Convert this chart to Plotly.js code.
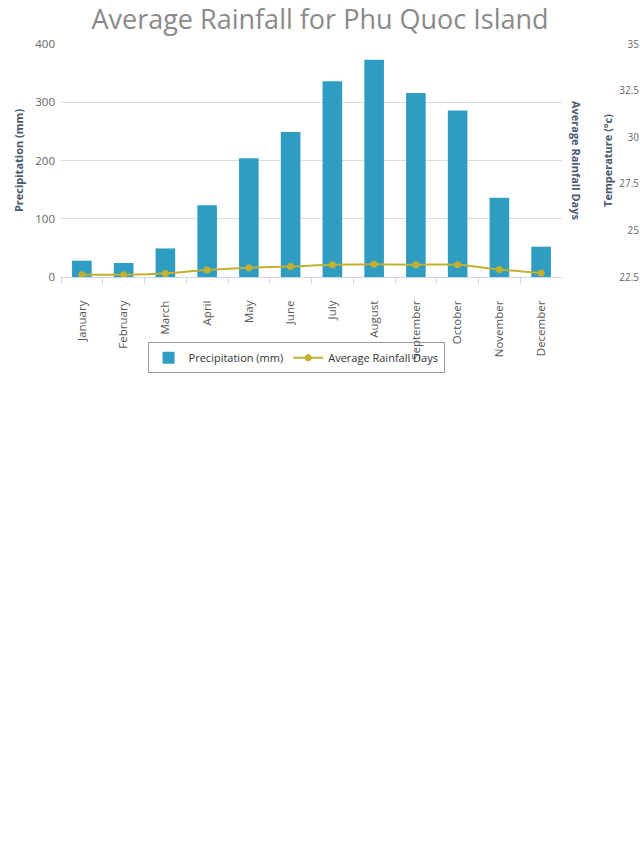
<!DOCTYPE html>
<html>
<head>
<meta charset="utf-8">
<script src="https://cdn.plot.ly/plotly-3.0.1.min.js"></script>
<style>html,body{margin:0;padding:0;background:#fff;}#chart{width:640px;height:853px;}</style>
</head>
<body>
<div id="chart"></div>
<script>
const months = ["January","February","March","April","May","June","July","August","September","October","November","December"];
const precipitation = [28, 24, 49, 123, 204, 249, 336, 373, 316, 286, 136, 52];
const rainfallDays = [4, 4, 6, 12, 16, 18, 21, 22, 21, 21, 13, 7];
const precipTicks = [0, 100, 200, 300, 400];
const tempTickVals = [22.5, 25, 27.5, 30, 32.5, 35];
const tempTickText = ["22.5", "25", "27.5", "30", "32.5", "35"];
const temperature = [];

const FONT = "Open Sans, Liberation Sans, sans-serif";
const TITLE_COLOR = "#4a5870";

const traces = [
  {
    type: "bar",
    name: "Precipitation (mm)",
    x: months,
    y: precipitation,
    marker: {color: "#2f9cc2"},
    yaxis: "y"
  },
  {
    type: "scatter",
    mode: "lines+markers",
    name: "Average Rainfall Days",
    x: months,
    y: rainfallDays,
    yaxis: "y2",
    line: {color: "#c2b030", width: 2, shape: "spline"},
    marker: {color: "#c2b030", size: 7, symbol: "circle"}
  },
  {
    type: "scatter",
    mode: "lines",
    name: "Temperature (°c)",
    x: temperature,
    y: temperature,
    yaxis: "y3",
    showlegend: false
  }
];

const layout = {
  width: 640,
  height: 853,
  margin: {l: 61, r: 0, t: 44, b: 575.5, autoexpand: false},
  paper_bgcolor: "#ffffff",
  plot_bgcolor: "#ffffff",
  font: {family: FONT, size: 10, color: "#666666"},
  title: {
    text: "Average Rainfall for Phu Quoc Island",
    font: {family: FONT, size: 27, color: "#8a8a8a"},
    x: 0.5, xref: "container", xanchor: "center",
    y: 0.977, yref: "container", yanchor: "middle"
  },
  bargap: 0.53,
  showlegend: true,
  legend: {
    orientation: "h",
    x: 0.406, xanchor: "center",
    y: -0.28, yanchor: "top",
    bgcolor: "rgba(255,255,255,0)",
    bordercolor: "#9a9a9a",
    borderwidth: 1,
    font: {family: FONT, size: 11, color: "#333333"},
    itemwidth: 30
  },
  xaxis: {
    domain: [0, 0.8653],
    range: [-0.5, 11.5],
    autorange: false,
    automargin: false,
    type: "category",
    tickangle: -90,
    ticks: "outside",
    tickson: "boundaries",
    ticklen: 6,
    tickcolor: "#ccd6eb",
    ticklabelstandoff: 18,
    showline: true,
    linecolor: "#ccd6eb",
    linewidth: 1,
    showgrid: false,
    tickfont: {family: FONT, size: 11.5, color: "#555555"}
  },
  yaxis: {
    automargin: false,
    range: [0, 400],
    tickvals: precipTicks,
    showgrid: true,
    gridcolor: "#dcdcdc",
    zeroline: false,
    showline: false,
    ticks: "",
    ticklabelstandoff: 5,
    tickfont: {family: FONT, size: 11.5, color: "#666666"},
    title: {
      text: "Precipitation (mm)",
      font: {family: FONT, size: 11, color: TITLE_COLOR, weight: "bold"},
      standoff: 9
    }
  },
  yaxis2: {
    automargin: false,
    overlaying: "y",
    side: "right",
    anchor: "x",
    range: [0, 400],
    showgrid: false,
    zeroline: false,
    showticklabels: false,
    ticks: ""
  },
  yaxis3: {
    automargin: false,
    overlaying: "y",
    side: "left",
    anchor: "free",
    position: 1,
    range: [22.5, 35],
    tickvals: tempTickVals,
    ticktext: tempTickText,
    showgrid: false,
    zeroline: false,
    showline: false,
    ticks: "",
    ticklabelstandoff: 1,
    tickfont: {family: FONT, size: 10, color: "#666666"},
    title: {
      text: "Temperature (°c)",
      font: {family: FONT, size: 11, color: TITLE_COLOR, weight: "bold"},
      standoff: 3
    }
  },
  annotations: [
    {
      text: "Average Rainfall Days",
      xref: "paper", yref: "y",
      x: 0.8905, y: 200,
      xanchor: "center", yanchor: "middle",
      textangle: 90,
      showarrow: false,
      font: {family: FONT, size: 11, color: TITLE_COLOR, weight: "bold"}
    }
  ]
};

Plotly.newPlot("chart", traces, layout, {displayModeBar: false, staticPlot: true});
</script>
</body>
</html>
